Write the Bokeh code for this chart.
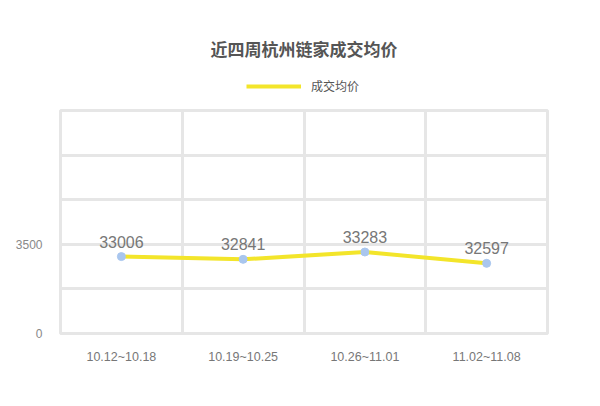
from bokeh.plotting import figure
from bokeh.layouts import column
from bokeh.models import FixedTicker, Legend, LegendItem, Range1d, ColumnDataSource, Label
from bokeh.core.properties import value
from bokeh.embed import file_html
from bokeh.resources import INLINE

title_text = "近四周杭州链家成交均价"
series_name = "成交均价"
weeks = ["10.12~10.18", "10.19~10.25", "10.26~11.01", "11.02~11.08"]
avg_price = [33006, 32841, 33283, 32597]
y_ticks = [28350, 31050, 33750, 36450, 39150, 41850]
y_tick_labels = ["0", "", "3500", "", "", ""]

LINE_COLOR = "#f3e52a"
GRID_COLOR = "#e6e6e6"

# ---------- header (title + legend) ----------
header = figure(width=600, height=100, output_backend="svg", toolbar_location=None,
                x_range=Range1d(0, 600), y_range=Range1d(0, 100),
                x_axis_location=None, y_axis_location=None,
                min_border=0, outline_line_color=None,
                background_fill_color="white", border_fill_color="white")
header.grid.visible = False
header.add_layout(Label(x=300, y=52, text=title_text, text_align="center",
                        text_baseline="middle", text_font="Noto Sans CJK SC",
                        text_font_size="17px", text_font_style="bold",
                        text_color="#555555"))
# legend-only renderer, kept outside the visible range
legend_line = header.line(x=[-20, -10], y=[-20, -20], line_color=LINE_COLOR, line_width=4)
header.add_layout(Legend(items=[LegendItem(label=series_name, renderers=[legend_line])],
                         orientation="horizontal", location=(186, 6),
                         glyph_width=55, glyph_height=12, label_height=12,
                         label_standoff=10,
                         label_text_font="Noto Sans CJK SC", label_text_font_size="12px",
                         label_text_color="#555555", border_line_color=None,
                         background_fill_color=None, padding=0, margin=0), "center")

# ---------- main chart ----------
x = [i + 0.5 for i in range(len(weeks))]
src = ColumnDataSource(dict(x=x, y=avg_price, label=[str(v) for v in avg_price]))

p = figure(width=600, height=306, output_backend="svg", toolbar_location=None,
           x_range=Range1d(0, len(weeks)), y_range=Range1d(y_ticks[0], y_ticks[-1]),
           min_border_left=60, min_border_right=53, min_border_top=10, min_border_bottom=73,
           background_fill_color="white", border_fill_color="white")

p.outline_line_color = GRID_COLOR
p.outline_line_width = 3

p.xaxis.ticker = FixedTicker(ticks=x)
p.xaxis.major_label_overrides = {xi: w for xi, w in zip(x, weeks)}
p.xaxis.axis_line_color = None
p.xaxis.major_tick_line_color = None
p.xaxis.minor_tick_line_color = None
p.xaxis.major_label_text_font = "Liberation Sans"
p.xaxis.major_label_text_font_size = "12.5px"
p.xaxis.major_label_text_color = "#777777"
p.xaxis.major_label_standoff = 10
p.xgrid.ticker = FixedTicker(ticks=[i for i in range(1, len(weeks))])
p.xgrid.grid_line_color = GRID_COLOR
p.xgrid.grid_line_width = 3

p.yaxis.ticker = FixedTicker(ticks=y_ticks)
p.yaxis.major_label_overrides = {t: l for t, l in zip(y_ticks, y_tick_labels)}
p.yaxis.axis_line_color = None
p.yaxis.major_tick_line_color = None
p.yaxis.minor_tick_line_color = None
p.yaxis.major_label_text_font = "Liberation Sans"
p.yaxis.major_label_text_font_size = "12px"
p.yaxis.major_label_text_color = "#888888"
p.yaxis.major_label_standoff = 12
p.ygrid.grid_line_color = GRID_COLOR
p.ygrid.grid_line_width = 3

p.line("x", "y", source=src, line_color=LINE_COLOR, line_width=4)
p.scatter("x", "y", source=src, size=8, fill_color="#a9c6ee", line_color="#a9c6ee")
p.text("x", "y", text="label", source=src, y_offset=-9, text_align="center",
       text_baseline="bottom", text_font=value("Liberation Sans"),
       text_font_size="16px", text_color="#777777")

layout = column(header, p, spacing=0)
open("out.html", "w").write(file_html(layout, INLINE))
